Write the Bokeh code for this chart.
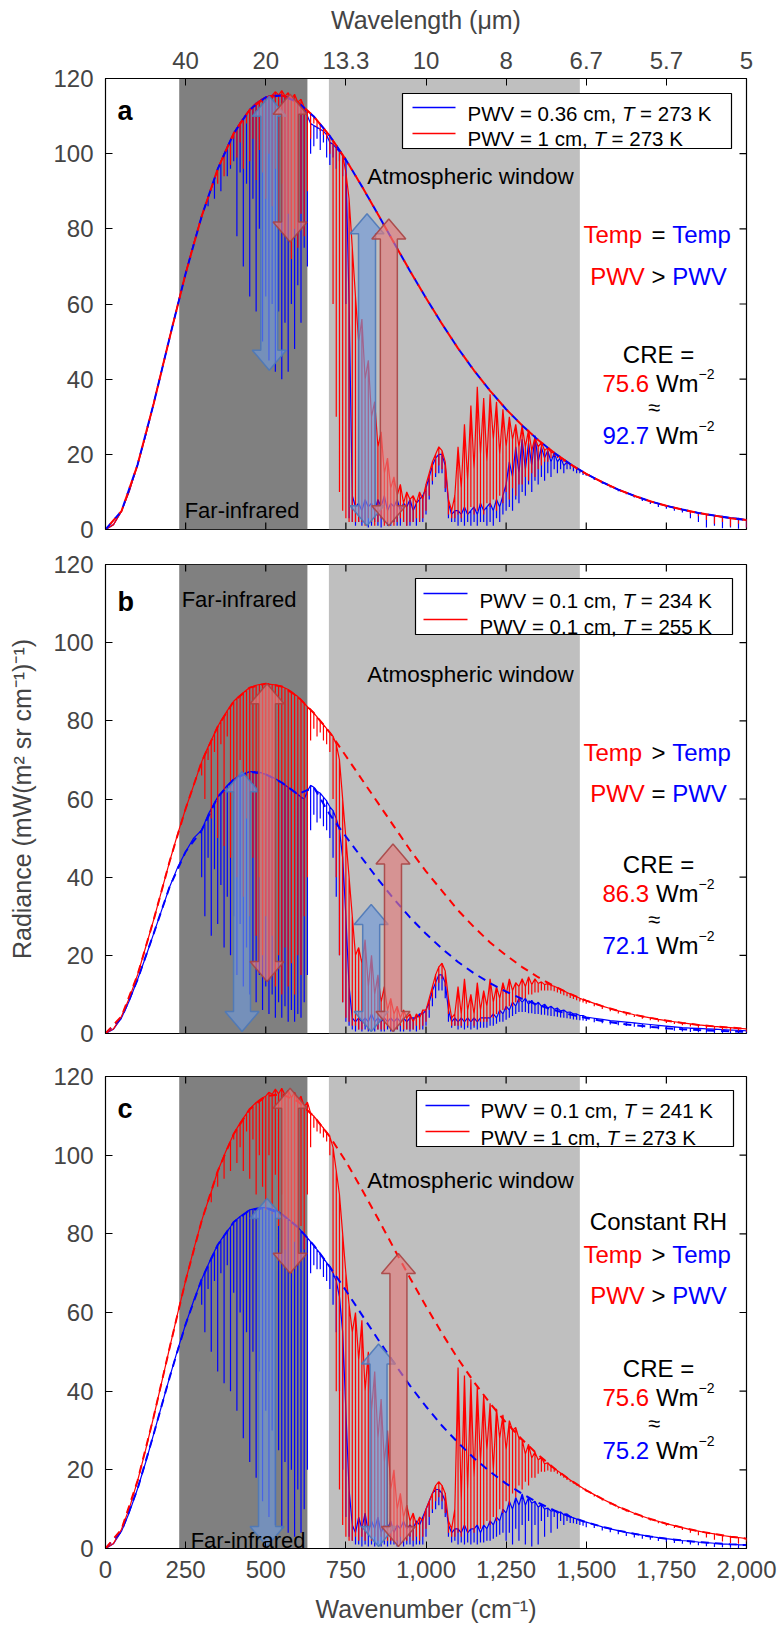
import math
from bokeh.plotting import figure
from bokeh.layouts import column
from bokeh.models import Range1d, FixedTicker, LinearAxis
from bokeh.core.properties import value
from bokeh.embed import file_html
from bokeh.resources import INLINE

FONT = "Liberation Sans"

# ---------------- data ----------------
WN_LOW = [0, 25, 50, 75, 100, 125, 150, 175, 200, 225, 250, 275]
WN_MID = list(range(300, 1501, 10))
WN_HIGH = list(range(1525, 2001, 25))
WN_DASH = list(range(0, 2001, 50))

X_TICKS = [0, 250, 500, 750, 1000, 1250, 1500, 1750, 2000]
X_TICK_LABELS = ["0", "250", "500", "750", "1,000", "1,250", "1,500", "1,750", "2,000"]
TOP_TICKS = [250, 500, 750, 1000, 1250, 1500, 1750, 2000]
TOP_TICK_LABELS = ["40", "20", "13.3", "10", "8", "6.7", "5.7", "5"]
Y_TICKS = [0, 20, 40, 60, 80, 100, 120]
FAR_IR = (230, 630)
WINDOW = (697, 1480)

# ---- panel a ----
a_red_dash = [0, 4.9, 17.2, 33.4, 51.0, 68.1, 83.3, 95.9, 105.4, 111.7, 115.0, 115.5, 113.7, 109.9,
              104.7, 98.4, 91.3, 83.9, 76.3, 68.8, 61.6, 54.7, 48.2, 42.3, 36.9, 32.0, 27.7, 23.8,
              20.4, 17.4, 14.8, 12.6, 10.6, 8.95, 7.5, 6.3, 5.3, 4.4, 3.7, 3.0, 2.5]
a_blue_dash = list(a_red_dash)
a_red_low = [0, 1.3, 4.9, 10.4, 17.2, 25.0, 33.4, 42.2, 51.0, 59.7, 68.1, 76.0]
a_blue_low = [0, 1.3, 4.9, 10.4, 17.2, 25.0, 33.4, 42.2, 51.0, 59.7, 68.1, 76.0]
a_red_mid_hi = [
    83.3, 85.9, 88.3, 90.7, 93.3, 95.9, 97.9, 99.9, 101.8, 103.6,
    105.4, 106.8, 108.2, 109.4, 110.6, 111.7, 112.6, 113.4, 114.0, 114.6,
    115.0, 115.3, 115.5, 116.5, 115.6, 116.8, 115.3, 116.2, 114.6, 115.8,
    113.7, 114.5, 112.3, 111.5, 110.7, 109.9, 108.9, 107.9, 106.9, 105.8,
    104.7, 103.5, 102.2, 101.0, 99.7, 95.0, 88.0, 75.0, 62.0, 50.0,
    56, 40, 45, 30, 34, 22, 26, 15, 19, 11,
    14, 9, 12, 7, 10, 8, 9, 7, 10, 8,
    12, 15, 18, 20, 22, 21, 18, 8, 5, 9,
    22, 11, 28, 13, 33, 16, 38, 20, 35, 18,
    36, 24, 34, 20, 32, 22, 30, 24, 28, 22,
    27.7, 22, 26.5, 21, 24.5, 22, 23.2, 21, 21.8, 20.5,
    20.4, 19.8, 19.2, 18.6, 18.0, 17.4, 16.9, 16.3, 15.8, 15.3,
    14.8]
a_red_mid_lo = [
    83.3, 85.9, 88.3, 90.7, 93.3, 92, 97.9, 94, 101.8, 97,
    104, 99, 103, 96, 108, 98, 104, 93, 101, 95,
    88, 100, 86, 96, 80, 92, 78, 84, 72, 80,
    75, 84, 78, 90, 104, 108, 107, 106, 105, 104,
    100, 60, 30, 10, 5, 3, 2, 2, 2, 2,
    2, 1, 3, 2, 1, 2, 3, 1, 2, 2,
    1, 2, 3, 2, 1, 2, 2, 3, 2, 3,
    5, 9, 13, 15, 17, 16, 11, 4, 3, 3,
    4, 3, 5, 4, 6, 4, 5, 6, 4, 7,
    6, 8, 5, 9, 7, 10, 8, 11, 9, 12,
    12, 14, 13, 15, 14, 16, 17, 18, 18, 19,
    19.5, 19, 18.5, 18, 17.4, 17, 16.5, 16, 15.5, 15,
    14.5]
a_blue_mid_hi = [
    83.3, 85.9, 88.3, 90.7, 93.3, 95.9, 97.9, 99.9, 101.8, 103.6,
    105.4, 106.8, 108.2, 109.4, 110.6, 111.7, 112.6, 113.4, 114.0, 114.6,
    115.0, 115.3, 115.5, 115.6, 115.6, 115.5, 115.3, 115.0, 114.6, 114.2,
    113.7, 113.0, 112.3, 110.0, 108.0, 107.5, 107.0, 106.5, 106.0, 105.0,
    103.0, 102.5, 101.5, 100.5, 99.5, 98.0, 60, 9, 6, 7,
    5, 8, 6, 7, 5, 8, 6, 9, 5, 7,
    6, 8, 5, 7, 6, 8, 5, 7, 8, 9,
    11, 14, 17, 19, 20, 20, 17, 7, 4, 5,
    5, 4, 6, 4, 5, 6, 4, 7, 5, 6,
    7, 5, 8, 6, 9, 12, 18, 14, 22, 15,
    24, 16, 23, 17, 25, 18, 22, 19, 21, 18,
    20.4, 18, 19.2, 17, 18.0, 17.4, 16.9, 16.3, 15.8, 15.3,
    14.8]
a_blue_mid_lo = [
    83.3, 85.9, 86, 90.7, 88, 95.9, 90, 99.9, 94, 96,
    98, 78, 95, 70, 92, 62, 88, 58, 80, 50,
    62, 45, 60, 42, 58, 40, 55, 42, 60, 48,
    65, 55, 75, 70, 100, 102, 104, 101, 103, 99,
    97, 99, 96, 98, 94, 60, 3, 2, 1, 2,
    1, 2, 0.5, 1, 2, 1, 0.5, 2, 1, 1,
    2, 1, 1, 2, 1, 1, 2, 1, 2, 2,
    4, 8, 12, 14, 15, 15, 10, 3, 2, 2,
    1, 2, 1, 2, 1, 2, 1, 2, 2, 1,
    2, 1, 3, 2, 4, 5, 6, 5, 8, 7,
    10, 9, 12, 10, 13, 12, 14, 13, 15, 14,
    16, 15, 16, 15, 16, 16, 15.5, 15, 15, 14.5,
    14.3]
a_red_high_hi = [13.7, 12.6, 11.6, 10.6, 9.8, 8.95, 8.2, 7.5, 6.9, 6.3, 5.8, 5.3, 4.8, 4.4, 4.0, 3.7, 3.3, 3.0, 2.8, 2.5]
a_red_high_lo = [13.5, 12.4, 11.4, 10.4, 9.6, 8.7, 8.0, 7.3, 6.6, 6.0, 5.5, 5.0, 4.2, 3.5, 2.5, 1.5, 2.0, 0.8, 1.5, 0.5]
a_blue_high_hi = [13.7, 12.6, 11.6, 10.6, 9.8, 8.95, 8.2, 7.5, 6.9, 6.3, 5.8, 5.3, 4.8, 4.4, 4.0, 3.7, 3.5, 3.2, 3.0, 2.6]
a_blue_high_lo = [13.2, 12.2, 11.2, 10.2, 9.4, 8.5, 7.6, 6.8, 6.0, 5.5, 5.0, 4.5, 3.0, 2.0, 0.5, 1.0, 0.3, 0.5, 0.2, 0.5]

# ---- panel b ----
b_red_dash = [0, 4.4, 15.0, 29.0, 44.0, 57.5, 69.5, 78.5, 85.0, 88.5, 89.5, 88.8, 86.2, 82.0,
              77.0, 71.0, 65.0, 59.0, 53.0, 47.0, 41.5, 36.5, 31.5, 27.2, 23.3, 20.0, 17.0, 14.4,
              12.1, 10.1, 8.4, 7.0, 5.8, 4.8, 4.0, 3.3, 2.7, 2.2, 1.8, 1.5, 1.2]
b_blue_dash = [0, 4.0, 13.8, 25.5, 37.5, 46.5, 52.0, 60.5, 65.0, 67.0, 66.3, 64.2, 61.2, 63.0,
               56.0, 50.4, 44.9, 39.5, 34.4, 29.7, 25.5, 21.7, 18.3, 15.4, 12.9, 10.7, 8.84, 7.3,
               5.97, 4.87, 3.97, 3.2, 2.61, 2.1, 1.7, 1.35, 1.09, 0.87, 0.7, 0.55, 0.44]
b_red_low = [0, 1.2, 4.4, 9.2, 15.0, 22.0, 29.0, 36.5, 44.0, 51.0, 57.5, 63.5]
b_blue_low = [0, 1.1, 4.0, 8.5, 13.8, 19.5, 25.5, 31.5, 37.5, 42.5, 46.5, 50.0]
b_red_mid_hi = [
    69.5, 71.5, 73.3, 75, 76.8, 78.5, 80, 81.3, 82.6, 83.8,
    85, 85.8, 86.5, 87.2, 87.9, 88.5, 88.8, 89.1, 89.3, 89.4,
    89.5, 89.4, 89.3, 89.2, 89.0, 88.8, 88.4, 88, 87.5, 86.8,
    86.2, 85.4, 84.5, 83.6, 82.8, 82, 81, 80, 79, 78,
    77, 76, 74, 70, 60, 50, 40, 30, 20, 22,
    18, 24, 12, 20, 10, 15, 8, 12, 6, 9,
    5, 7, 4, 6, 4, 5, 3, 5, 4, 6,
    6, 9, 12, 15, 17, 18, 16, 9, 4, 5,
    12, 5, 14, 6, 10, 5, 13, 6, 11, 7,
    14, 8, 12, 9, 13, 10, 14, 11, 13, 12,
    14, 12, 14.5, 12.5, 14, 12.8, 13.2, 12.5, 12.8, 12.3,
    12.1, 11.7, 11.3, 10.9, 10.5, 10.1, 9.8, 9.4, 9.0, 8.7,
    8.4]
b_red_mid_lo = [
    66, 60, 70, 55, 72, 50, 74, 48, 76, 45,
    60, 40, 70, 35, 55, 30, 45, 25, 40, 20,
    30, 14, 25, 12, 20, 10, 22, 12, 18, 10,
    20, 15, 30, 40, 75, 78, 76, 77, 75, 74,
    72, 60, 40, 20, 8, 4, 3, 2, 2, 1,
    1, 2, 1, 1, 2, 1, 1, 1, 2, 1,
    1, 1, 2, 1, 1, 1, 1, 2, 1, 2,
    3, 6, 9, 12, 13, 14, 12, 5, 2, 2,
    2, 2, 3, 2, 3, 2, 3, 3, 3, 3,
    4, 4, 5, 5, 6, 6, 7, 7, 8, 8,
    9, 9, 10, 10, 10.5, 10.5, 11, 11, 11, 11,
    10.8, 10.5, 10.2, 9.8, 9.5, 9.1, 8.8, 8.5, 8.2, 7.9,
    7.6]
b_blue_mid_hi = [
    52, 54, 56, 57.5, 59, 60.5, 61.5, 62.5, 63.5, 64.3,
    65, 65.6, 66, 66.4, 66.7, 67, 67, 67, 66.8, 66.6,
    66.3, 66, 65.6, 65.2, 64.7, 64.2, 63.6, 63, 62.4, 61.8,
    61.2, 60.5, 60, 62, 63.5, 63, 62, 61.5, 60.5, 59.5,
    58, 57, 55, 52, 45, 30, 12, 4, 3, 4,
    3, 4, 3, 5, 3, 4, 3, 4, 3, 4,
    3, 4, 3, 4, 3, 4, 4, 4, 5, 5,
    6, 8, 11, 13, 15, 15, 13, 6, 3, 4,
    3, 4, 3, 4, 3, 4, 3, 4, 4, 4,
    4, 5, 4, 6, 5, 7, 6, 8, 7, 9,
    8, 9, 7.5, 8.5, 7.2, 8, 7, 7.5, 6.5, 7,
    6.2, 6.5, 5.8, 6, 5.4, 5.5, 5, 5, 4.6, 4.6,
    4.2]
b_blue_mid_lo = [
    40, 30, 45, 25, 42, 28, 38, 22, 35, 20,
    30, 15, 28, 12, 22, 10, 18, 8, 15, 6,
    12, 5, 10, 4, 8, 4, 7, 3, 6, 3,
    5, 4, 8, 15, 52, 56, 54, 55, 53, 52,
    50, 45, 35, 20, 8, 3, 2, 1, 0.5, 1,
    0.5, 1, 0.5, 1, 0.5, 1, 0.5, 0.5, 1, 0.5,
    0.5, 1, 0.5, 0.5, 1, 0.5, 1, 0.5, 1, 1,
    2, 4, 7, 9, 11, 11, 9, 3, 1.5, 2,
    1, 1.5, 1, 1.5, 1, 1.5, 1, 1.5, 1.5, 1.5,
    2, 2, 2.5, 3, 3, 3.5, 4, 4.5, 5, 5.5,
    5.5, 5.5, 5.2, 5.2, 5, 5, 4.8, 4.8, 4.6, 4.5,
    4.4, 4.3, 4.1, 4.0, 3.9, 3.8, 3.6, 3.5, 3.4, 3.3,
    3.2]
b_red_high_hi = [7.7, 7.0, 6.4, 5.8, 5.3, 4.8, 4.4, 4.0, 3.6, 3.3, 3.0, 2.7, 2.45, 2.2, 2.0, 1.8, 1.65, 1.5, 1.35, 1.2]
b_red_high_lo = [7.0, 6.3, 5.7, 5.1, 4.6, 4.2, 3.8, 3.4, 3.0, 2.7, 2.4, 2.1, 1.8, 1.5, 1.2, 1.0, 0.8, 0.6, 0.5, 0.4]
b_blue_high_hi = [3.9, 3.6, 3.3, 3.1, 2.9, 2.7, 2.5, 2.3, 2.1, 1.9, 1.7, 1.5, 1.4, 1.3, 1.2, 1.1, 1.0, 0.9, 0.8, 0.7]
b_blue_high_lo = [2.9, 2.6, 2.3, 2.1, 1.9, 1.7, 1.5, 1.3, 1.1, 0.9, 0.7, 0.5, 0.4, 0.3, 0.2, 0.1, 0.1, 0, 0, 0]

# ---- panel c ----
c_red_dash = [0, 4.9, 17.2, 33.4, 51.0, 68.1, 83.3, 95.9, 105.4, 111.7, 115.0, 115.5, 113.7, 109.9,
              104.7, 98.4, 91.3, 83.9, 76.3, 68.8, 61.6, 54.7, 48.2, 42.3, 36.9, 32.0, 27.7, 23.8,
              20.4, 17.4, 14.8, 12.6, 10.6, 8.95, 7.5, 6.3, 5.3, 4.4, 3.7, 3.0, 2.5]
c_blue_dash = [0, 4.42, 15.15, 28.97, 43.5, 57.0, 68.4, 77.15, 83.0, 86.06, 86.6, 85.0, 81.7, 77.07,
               71.6, 65.6, 59.4, 53.2, 47.2, 41.4, 36.1, 31.2, 26.9, 22.96, 19.5, 16.5, 13.9, 11.64,
               9.71, 8.08, 6.69, 5.52, 4.54, 3.73, 3.05, 2.49, 2.03, 1.65, 1.33, 1.08, 0.87]
c_red_low = [0, 1.3, 4.9, 10.4, 17.2, 25.0, 33.4, 42.2, 51.0, 59.7, 68.1, 76.0]
c_blue_low = [0, 1.2, 4.4, 9.3, 15.2, 21.8, 29.0, 36.3, 43.5, 50.5, 57.0, 63.0]
c_red_mid_hi = [
    83.3, 85.9, 88.3, 90.7, 93.3, 95.9, 97.9, 99.9, 101.8, 103.6,
    105.4, 106.8, 108.2, 109.4, 110.6, 111.7, 112.6, 113.4, 114.0, 114.6,
    115.0, 116, 115.5, 116.8, 115.6, 117, 115.3, 116.5, 114.6, 116,
    113.7, 115, 112.3, 113.5, 110.7, 109.9, 108.9, 107.9, 106.9, 105.8,
    104.7, 102, 96, 90, 80, 70, 62, 55, 60, 48,
    58, 40, 50, 35, 45, 28, 38, 22, 30, 15,
    20, 10, 14, 8, 11, 7, 9, 6, 8, 7,
    10, 12, 14, 16, 17, 16, 14, 7, 5, 10,
    46, 12, 44, 15, 43, 18, 41, 22, 39, 25,
    36.9, 20, 35.5, 28, 34, 25, 32.5, 30, 30.8, 28,
    27.7, 24, 26.5, 23, 24.5, 22.5, 23.2, 21.5, 21.8, 20.8,
    20.4, 19.8, 19.2, 18.6, 18.0, 17.4, 16.9, 16.3, 15.8, 15.3,
    14.8]
c_red_mid_lo = [
    83.3, 85.9, 88.3, 88, 93.3, 92, 97.9, 94, 101.8, 96,
    104, 98, 102, 96, 106, 94, 104, 90, 100, 92,
    86, 100, 85, 95, 82, 90, 76, 84, 70, 78,
    72, 82, 76, 90, 102, 107, 106, 105.5, 104.5, 103.5,
    100, 70, 40, 15, 6, 3, 2, 2, 3, 2,
    3, 2, 4, 2, 3, 2, 3, 2, 2, 2,
    2, 2, 3, 2, 2, 3, 2, 3, 2, 3,
    5, 8, 10, 12, 13, 12, 9, 4, 3, 3,
    4, 3, 5, 4, 5, 4, 6, 5, 6, 7,
    6, 8, 7, 10, 9, 12, 11, 14, 13, 16,
    15, 17, 16, 18, 18, 19, 19.5, 19.5, 19.8, 19.5,
    19.5, 19, 18.5, 18, 17.4, 17, 16.5, 16, 15.5, 15,
    14.5]
c_blue_mid_hi = [
    68.4, 70.3, 72.1, 73.9, 75.6, 77.1, 78.4, 79.6, 80.7, 81.8,
    83.0, 83.7, 84.4, 85, 85.5, 86.1, 86.3, 86.5, 86.6, 86.7,
    86.6, 86.5, 86.3, 86, 85.6, 85.0, 84.4, 83.8, 83.1, 82.4,
    81.7, 80.8, 79.9, 79, 78, 77, 76, 75, 73.8, 72.7,
    71.6, 70, 68, 64, 55, 35, 15, 6, 4, 8,
    5, 9, 4, 7, 5, 8, 4, 6, 5, 7,
    4, 6, 5, 7, 5, 6, 5, 7, 6, 8,
    10, 12, 14, 15, 15, 14, 12, 6, 4, 5,
    5, 4, 6, 4, 5, 5, 6, 4, 6, 5,
    7, 6, 8, 7, 10, 9, 12, 10, 13, 11,
    13.9, 11, 13, 11.5, 12, 10.5, 11.2, 10, 10.3, 9.5,
    9.71, 9, 9.3, 8.6, 8.8, 8.08, 7.8, 7.5, 7.2, 6.9,
    6.69]
c_blue_mid_lo = [
    62, 55, 66, 50, 68, 45, 70, 42, 72, 40,
    65, 35, 60, 28, 55, 22, 50, 18, 45, 12,
    35, 8, 30, 6, 25, 5, 22, 4, 20, 3,
    15, 4, 10, 20, 70, 72, 71, 71, 69, 68,
    66, 62, 55, 40, 20, 8, 3, 2, 1, 1,
    0.5, 1, 0.5, 1, 0.5, 1, 0.5, 1, 0.5, 1,
    1, 0.5, 1, 0.5, 1, 1, 0.5, 1, 1, 1,
    3, 6, 9, 10, 11, 10, 8, 3, 1.5, 2,
    1, 1.5, 1, 1.5, 1, 1.5, 1, 1.5, 1.5, 2,
    2, 2.5, 3, 3.5, 4, 2, 4, 1, 5, 2,
    6, 1, 7, 0.5, 6, 1, 7, 3, 8, 4,
    8, 5, 7, 6, 7, 6.5, 6.4, 6.2, 6.0, 5.8,
    5.4]
c_red_high_hi = [13.7, 12.6, 11.6, 10.6, 9.8, 8.95, 8.2, 7.5, 6.9, 6.3, 5.8, 5.3, 4.8, 4.4, 4.0, 3.7, 3.3, 3.0, 2.8, 2.5]
c_red_high_lo = [13.2, 12.2, 11.2, 10.2, 9.4, 8.6, 7.8, 7.1, 6.4, 5.8, 5.2, 4.7, 4.0, 3.4, 2.8, 2.2, 1.8, 1.4, 1.2, 0.8]
c_blue_high_hi = [6.1, 5.5, 5.0, 4.54, 4.1, 3.73, 3.4, 3.05, 2.75, 2.49, 2.25, 2.03, 1.85, 1.65, 1.5, 1.33, 1.2, 1.08, 0.97, 0.87]
c_blue_high_lo = [5.2, 4.6, 4.1, 3.6, 3.2, 2.8, 2.5, 2.2, 1.9, 1.6, 1.4, 1.2, 1.0, 0.8, 0.6, 0.4, 0.3, 0.2, 0.1, 0.1]

# arrows: (wavenumber, top value, bottom value, colour)
ARROWS = {
    "a": [(511, 115.3, 42.4, "blue"), (576, 115.8, 76.5, "red"), (816, 84, 1.0, "blue"), (884, 82.6, 1.0, "red")],
    "b": [(426, 67, 0.5, "blue"), (504, 89.5, 13.3, "red"), (829, 33, 0.5, "blue"), (897, 48.5, 0.5, "red")],
    "c": [(504, 89, 0.5, "blue"), (576, 117, 70, "red"), (852, 52, 0.5, "blue"), (914, 75, 0.5, "red")],
}

LEGENDS = {
    "a": [("PWV = 0.36 cm,", "273 K"), ("PWV = 1 cm,", "273 K")],
    "b": [("PWV = 0.1 cm,", "234 K"), ("PWV = 0.1 cm,", "255 K")],
    "c": [("PWV = 0.1 cm,", "241 K"), ("PWV = 1 cm,", "273 K")],
}
CRE = {"a": ("75.6", "92.7"), "b": ("86.3", "72.1"), "c": ("75.6", "75.2")}
RELATION = {"a": ("=", ">"), "b": (">", "="), "c": (">", ">")}

# ---------------- layout (page pixels; the page starts at 0,0) ----------------
RED = "#ff0000"
BLUE = "#0000ff"
FIG_W = 781
FRAME_LEFT = 105
FRAME_W = 641
PANEL_GEOM = {  # figure height, border top, border bottom
    "a": (546, 78, 17),
    "b": (508, 18, 21),
    "c": (579, 22, 85),
}
PAGE_FRAME = {}
_y = 0
for k in "abc":
    h, t, b = PANEL_GEOM[k]
    PAGE_FRAME[k] = (_y + t, _y + h - b)
    _y += h

CW = {' ': 278, '(': 333, ')': 333, ',': 278, '-': 333, '.': 278, '=': 584, '>': 584, '≈': 584, '−': 584,
      'A': 667, 'C': 722, 'E': 667, 'H': 722, 'K': 667, 'P': 667, 'R': 722, 'T': 611, 'V': 667, 'W': 944,
      'a': 556, 'c': 500, 'd': 556, 'e': 556, 'm': 833, 'n': 556, 'o': 556, 'p': 556, 'r': 333, 's': 500,
      't': 278, 'i': 222, 'f': 278, 'w': 722, 'h': 556, 'l': 222, 'g': 556, 'u': 556, 'b': 556}


def tw(s, size):
    return sum(CW.get(ch, 556) for ch in s) * size / 1000.0


def wn_of(px):
    return (px - FRAME_LEFT) * 2000.0 / FRAME_W


def val_of(k, py):
    top, bot = PAGE_FRAME[k]
    return (bot - py) * 120.0 / (bot - top)


def ky(k):
    top, bot = PAGE_FRAME[k]
    return 120.0 / (bot - top)


KX = 2000.0 / FRAME_W


def put_text(p, k, x_px, base_px, pieces, center=False):
    """pieces: (text, color, size, style, raise_px)"""
    total = sum(tw(t, s) for t, c, s, st, r in pieces)
    x0 = x_px - total / 2.0 if center else x_px
    off = 0.0
    for t, c, s, st, r in pieces:
        stripped = t.lstrip(" ")
        off += tw(t[:len(t) - len(stripped)], s)
        body = stripped.rstrip(" ")
        if body:
            p.text(x=[wn_of(x0)], y=[val_of(k, base_px)], text=[body], x_offset=off, y_offset=-r,
                   text_color=c, text_font=value(FONT), text_font_size=f"{s}px",
                   text_font_style=st, text_align="left", text_baseline="alphabetic")
        off += tw(stripped, s)


def spectrum(p, low, mid_hi, mid_lo, high_hi, high_lo, color):
    # top trace with absorption lines hanging down to the read minima
    xs, ys = list(WN_LOW), list(low)
    for x, h, l in zip(WN_MID, mid_hi, mid_lo):
        xs += [x, x, x]
        ys += [h, l, h]
    for x, h, l in zip(WN_HIGH, high_hi, high_lo):
        xs += [x, x, x]
        ys += [h, l, h]
    p.line(xs, ys, line_color=color, line_width=1.2)


def arrow(p, k, xc, yt, yb, kind):
    hs, hh = 8.5 * KX, 17 * KX
    hl = 20 * ky(k)
    xs = [xc, xc + hh, xc + hs, xc + hs, xc + hh, xc, xc - hh, xc - hs, xc - hs, xc - hh]
    ys = [yt, yt - hl, yt - hl, yb + hl, yb + hl, yb, yb + hl, yb + hl, yt - hl, yt - hl]
    if kind == "blue":
        p.patch(xs, ys, fill_color="#6f98d8", fill_alpha=0.65, line_color="#4d78b8", line_alpha=0.9, line_width=1.5)
    else:
        p.patch(xs, ys, fill_color="#e27b7b", fill_alpha=0.65, line_color="#a84444", line_alpha=0.9, line_width=1.5)


def style_axis(ax, standoff):
    ax.major_label_text_font = FONT
    ax.major_label_text_font_size = "24px"
    ax.major_label_standoff = standoff
    ax.major_tick_in = 7
    ax.major_tick_out = 0
    ax.minor_tick_in = 0
    ax.minor_tick_out = 0
    ax.axis_line_color = "black"
    ax.major_tick_line_color = "black"
    ax.axis_label_text_font = FONT
    ax.axis_label_text_font_size = "25px"
    ax.axis_label_text_font_style = "normal"


def make_panel(k):
    h, bt, bb = PANEL_GEOM[k]
    p = figure(width=FIG_W, height=h, x_range=Range1d(0, 2000), y_range=Range1d(0, 120),
               output_backend="svg", toolbar_location=None,
               x_axis_location=("below" if k == "c" else None), y_axis_location="left",
               min_border_left=FRAME_LEFT, min_border_right=FIG_W - FRAME_LEFT - FRAME_W,
               min_border_top=bt, min_border_bottom=bb)
    p.xgrid.visible = False
    p.ygrid.visible = False
    p.outline_line_color = "black"
    p.outline_line_width = 1.2
    p.background_fill_color = "white"
    p.border_fill_color = "white"

    ya = p.yaxis[0]
    ya.ticker = FixedTicker(ticks=Y_TICKS)
    style_axis(ya, 12)
    if k == "b":
        ya.axis_label = "Radiance (mW(m² sr cm⁻¹)⁻¹)"
        ya.axis_label_standoff = 14

    if k == "c":
        xa = p.xaxis[0]
        xa.ticker = FixedTicker(ticks=X_TICKS)
        xa.major_label_overrides = {t: l for t, l in zip(X_TICKS, X_TICK_LABELS)}
        style_axis(xa, 12)
        xa.axis_label = "Wavenumber (cm⁻¹)"
        xa.axis_label_standoff = 14
    if k == "a":
        ta = LinearAxis(ticker=FixedTicker(ticks=TOP_TICKS),
                        major_label_overrides={t: l for t, l in zip(TOP_TICKS, TOP_TICK_LABELS)},
                        axis_label="Wavelength (μm)")
        style_axis(ta, 10)
        ta.axis_label_standoff = 15
        p.add_layout(ta, "above")

    # shaded bands
    p.quad(left=[FAR_IR[0]], right=[FAR_IR[1]], bottom=[0], top=[120], fill_color="#808080", line_color=None)
    p.quad(left=[WINDOW[0]], right=[WINDOW[1]], bottom=[0], top=[120], fill_color="#bfbfbf", line_color=None)

    # inward ticks on the unlabeled sides
    tl = 7
    inner = [250, 500, 750, 1000, 1250, 1500, 1750]
    if k != "c":
        p.segment(x0=inner, y0=[0] * 7, x1=inner, y1=[tl * ky(k)] * 7, line_color="black", line_width=1.2)
    if k != "a":
        p.segment(x0=inner, y0=[120] * 7, x1=inner, y1=[120 - tl * ky(k)] * 7, line_color="black", line_width=1.2)
    ry = [20, 40, 60, 80, 100]
    p.segment(x0=[2000] * 5, y0=ry, x1=[2000 - tl * KX] * 5, y1=ry, line_color="black", line_width=1.2)
    return p


pa, pb, pc = make_panel("a"), make_panel("b"), make_panel("c")
P = {"a": pa, "b": pb, "c": pc}

DATA = {
    "a": (a_red_dash, a_blue_dash, (a_blue_low, a_blue_mid_hi, a_blue_mid_lo, a_blue_high_hi, a_blue_high_lo),
          (a_red_low, a_red_mid_hi, a_red_mid_lo, a_red_high_hi, a_red_high_lo)),
    "b": (b_red_dash, b_blue_dash, (b_blue_low, b_blue_mid_hi, b_blue_mid_lo, b_blue_high_hi, b_blue_high_lo),
          (b_red_low, b_red_mid_hi, b_red_mid_lo, b_red_high_hi, b_red_high_lo)),
    "c": (c_red_dash, c_blue_dash, (c_blue_low, c_blue_mid_hi, c_blue_mid_lo, c_blue_high_hi, c_blue_high_lo),
          (c_red_low, c_red_mid_hi, c_red_mid_lo, c_red_high_hi, c_red_high_lo)),
}

# text positions (page px)
FAR_LABEL = {"a": (241, 510), "b": (238, 599), "c": (247, 1540)}
ATM_BASE = {"a": 176, "b": 674, "c": 1180}
LETTER_BASE = {"a": 110, "b": 601, "c": 1108}
LEG_BOX = {"a": (402, 731, 93, 148), "b": (415, 732, 578, 634), "c": (416, 733, 1090, 1146)}
LEG_LINE = {"a": (412, 455, 467, (107, 133), (113, 138)),
            "b": (423, 467, 479, (593, 619), (600, 626)),
            "c": (425, 469, 480, (1105, 1131), (1110, 1137))}
RIGHT_BASE = {"a": (None, 234, 276, 354, 383, 407, 435),
              "b": (None, 752, 793, 864, 893, 919, 945),
              "c": (1221, 1254, 1295, 1368, 1397, 1423, 1450)}
RX = 658

for k in "abc":
    p = P[k]
    rdash, bdash, blue, red = DATA[k]
    spectrum(p, *blue, BLUE)
    spectrum(p, *red, RED)
    p.line(WN_DASH, bdash, line_color=BLUE, line_width=2, line_dash="8 6")
    p.line(WN_DASH, rdash, line_color=RED, line_width=2, line_dash="8 6",
           line_dash_offset=(7 if k == "a" else 0))
    for xc, yt, yb, kind in ARROWS[k]:
        arrow(p, k, xc, yt, yb, kind)

    fx, fb = FAR_LABEL[k]
    put_text(p, k, fx, fb, [("Far-infrared", "black", 22, "normal", 0)], center=True)
    put_text(p, k, 470, ATM_BASE[k], [("Atmospheric window", "black", 22.5, "normal", 0)], center=True)
    p.text(x=[wn_of(117)], y=[val_of(k, LETTER_BASE[k])], text=[k], text_font=value(FONT),
           text_font_size="27px", text_font_style="bold", text_color="black", text_baseline="alphabetic")

    # legend
    l, r, t, b = LEG_BOX[k]
    p.quad(left=[wn_of(l)], right=[wn_of(r)], top=[val_of(k, t)], bottom=[val_of(k, b)],
           fill_color="white", line_color="black", line_width=1.2)
    x0, x1, xt, rows, bases = LEG_LINE[k]
    for (lbl, temp), ry_, rb, col in zip(LEGENDS[k], rows, bases, [BLUE, RED]):
        p.line([wn_of(x0), wn_of(x1)], [val_of(k, ry_)] * 2, line_color=col, line_width=1.5)
        put_text(p, k, xt, rb, [(lbl, "black", 20.5, "normal", 0), (" T", "black", 20.5, "italic", 0),
                                (" = " + temp, "black", 20.5, "normal", 0)])

    # right annotations
    cr, bt_, bp, bc, b1, bap, b2 = RIGHT_BASE[k]
    rel_t, rel_p = RELATION[k]
    if cr is not None:
        put_text(p, k, RX, cr, [("Constant RH", "black", 24, "normal", 0)], center=True)
    put_text(p, k, RX, bt_, [("Temp", RED, 24, "normal", 0), (" " + rel_t + " ", "black", 24, "normal", 0),
                             ("Temp", BLUE, 24, "normal", 0)], center=True)
    put_text(p, k, RX, bp, [("PWV", RED, 24, "normal", 0), (" " + rel_p + " ", "black", 24, "normal", 0),
                            ("PWV", BLUE, 24, "normal", 0)], center=True)
    put_text(p, k, RX, bc, [("CRE =", "black", 24, "normal", 0)], center=True)
    v1, v2 = CRE[k]
    put_text(p, k, RX, b1, [(v1, RED, 24, "normal", 0), (" Wm", "black", 24, "normal", 0),
                            ("−2", "black", 14, "normal", 10)], center=True)
    put_text(p, k, RX - 4, bap, [("≈", "black", 22, "normal", 0)], center=True)
    put_text(p, k, RX, b2, [(v2, BLUE, 24, "normal", 0), (" Wm", "black", 24, "normal", 0),
                            ("−2", "black", 14, "normal", 10)], center=True)

layout = column(pa, pb, pc)
open("out.html", "w").write(file_html(layout, INLINE))
